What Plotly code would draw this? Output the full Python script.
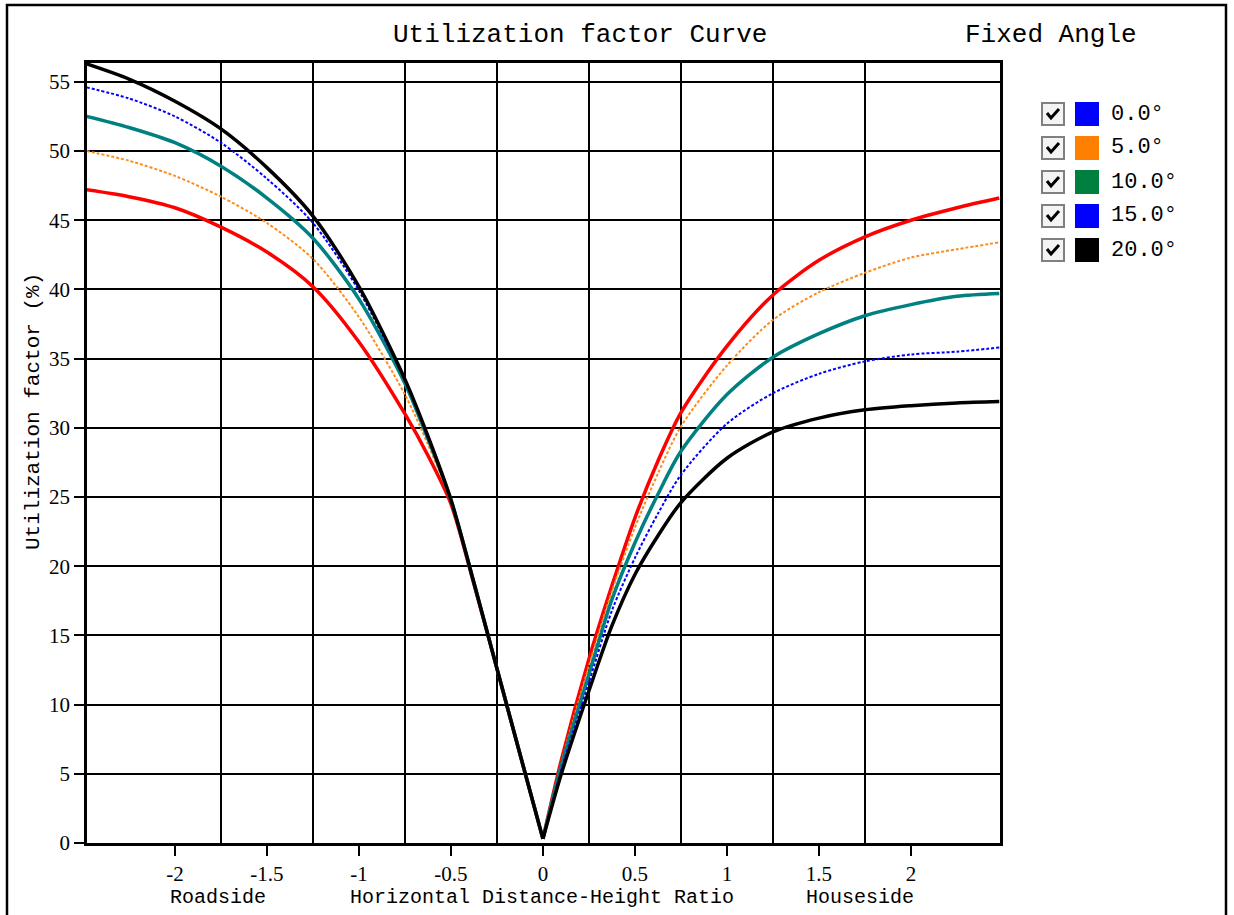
import plotly.graph_objects as go

# ---------------- data ----------------
x_left = [-2.48, -2.25, -2.0, -1.75, -1.5, -1.25, -1.0, -0.75, -0.625, -0.5, -0.375, -0.25, -0.1, 0.0]
x_right = [0.0, 0.1, 0.25, 0.375, 0.5, 0.625, 0.75, 1.0, 1.25, 1.5, 1.75, 2.0, 2.25, 2.48]

red_left = [47.2, 46.7, 45.9, 44.5, 42.7, 40.2, 36.2, 31.0, 28.0, 24.5, 18.7, 12.6, 5.2, 0.3]
orange_left = [50.0, 49.3, 48.2, 46.7, 44.8, 42.2, 38.0, 32.4, 28.8, 24.7, 18.8, 12.6, 5.2, 0.3]
teal_left = [52.5, 51.7, 50.6, 48.9, 46.6, 43.7, 39.3, 33.2, 29.2, 24.8, 18.8, 12.6, 5.2, 0.3]
blue_left = [54.6, 53.8, 52.5, 50.6, 48.0, 44.8, 39.9, 33.4, 29.3, 24.8, 18.8, 12.6, 5.2, 0.3]
black_left = [56.3, 55.2, 53.6, 51.6, 48.8, 45.3, 40.2, 33.5, 29.4, 24.8, 18.8, 12.6, 5.2, 0.3]

red_right = [0.3, 6.0, 13.3, 18.6, 23.5, 27.6, 31.1, 35.9, 39.6, 42.1, 43.8, 45.0, 45.9, 46.6]
orange_right = [0.3, 5.8, 12.8, 18.2, 22.8, 26.7, 30.1, 34.5, 37.8, 39.8, 41.2, 42.3, 42.9, 43.4]
teal_right = [0.3, 5.6, 12.2, 17.6, 21.7, 25.2, 28.3, 32.4, 35.1, 36.8, 38.1, 38.9, 39.5, 39.7]
blue_right = [0.3, 5.3, 11.6, 16.8, 20.6, 23.8, 26.6, 30.3, 32.5, 33.9, 34.8, 35.3, 35.5, 35.8]
black_right = [0.3, 5.0, 11.0, 15.7, 19.4, 22.2, 24.6, 27.8, 29.7, 30.7, 31.3, 31.6, 31.8, 31.9]

legend_labels = ["0.0°", "5.0°", "10.0°", "15.0°", "20.0°"]
legend_swatches = ["#0000FF", "#FF8000", "#008040", "#0000FF", "#000000"]

x_tickvals = [-2, -1.5, -1, -0.5, 0, 0.5, 1, 1.5, 2]
x_ticktext = ["-2", "-1.5", "-1", "-0.5", "0", "0.5", "1", "1.5", "2"]
x_gridvals = [-1.75, -1.25, -0.75, -0.25, 0.25, 0.75, 1.25, 1.75]
y_tickvals = [0, 5, 10, 15, 20, 25, 30, 35, 40, 45, 50, 55]

# ---------------- layout geometry ----------------
W, H = 1234, 915
L, R, T, B = 87, 1000, 63, 843


def px(xp):
    return (xp - L) / (R - L)


def py(yp):
    return (B - yp) / (B - T)


series = [
    ("0.0°", red_left, red_right, dict(color="#FF0000", width=3.5)),
    ("5.0°", orange_left, orange_right, dict(color="#FF8C1A", width=2, dash="3px,2px")),
    ("10.0°", teal_left, teal_right, dict(color="#008080", width=3.5)),
    ("15.0°", blue_left, blue_right, dict(color="#0000FF", width=2, dash="3px,2px")),
    ("20.0°", black_left, black_right, dict(color="#000000", width=3.5)),
]

fig = go.Figure()
for name, yl, yr, ln in series:
    fig.add_trace(go.Scatter(x=x_left, y=yl, mode="lines", name=name,
                             line=dict(shape="spline", smoothing=0.8, **ln),
                             showlegend=False, hoverinfo="skip"))
    fig.add_trace(go.Scatter(x=x_right, y=yr, mode="lines", name=name,
                             line=dict(shape="spline", smoothing=0.8, **ln),
                             showlegend=False, hoverinfo="skip"))

mono = "Liberation Mono"
serif = "Liberation Serif"

shapes = []
annotations = []

# outer frame
shapes.append(dict(type="rect", xref="paper", yref="paper",
                   x0=px(7), x1=px(1226), y0=py(5), y1=py(925),
                   line=dict(color="black", width=2.5), fillcolor="rgba(0,0,0,0)", layer="above"))

# titles
annotations.append(dict(text="Utilization factor Curve", xref="paper", yref="paper",
                        x=px(580), y=py(35), xanchor="center", yanchor="middle",
                        showarrow=False, font=dict(family=mono, size=26, color="black")))
annotations.append(dict(text="Fixed Angle", xref="paper", yref="paper",
                        x=px(1051), y=py(35), xanchor="center", yanchor="middle",
                        showarrow=False, font=dict(family=mono, size=26, color="black")))

# x axis labels
for txt, cx in [("Roadside", 218), ("Horizontal Distance-Height Ratio", 542), ("Houseside", 860)]:
    annotations.append(dict(text=txt, xref="paper", yref="paper", x=px(cx), y=py(897),
                            xanchor="center", yanchor="middle", showarrow=False,
                            font=dict(family=mono, size=20, color="black")))

# y axis label
annotations.append(dict(text="Utilization factor (%)", xref="paper", yref="paper",
                        x=px(33), y=py(412), xanchor="center", yanchor="middle",
                        textangle=-90, showarrow=False,
                        font=dict(family=mono, size=21, color="black")))

# custom legend
for i, (lab, col) in enumerate(zip(legend_labels, legend_swatches)):
    cy = 114 + 34 * i
    shapes.append(dict(type="rect", xref="paper", yref="paper",
                       x0=px(1042), x1=px(1064), y0=py(cy - 11), y1=py(cy + 11),
                       line=dict(color="#808080", width=2), fillcolor="#F4F4F4"))
    shapes.append(dict(type="path", xref="paper", yref="paper",
                       path=f"M {px(1047)} {py(cy - 1)} L {px(1051)} {py(cy + 4)} L {px(1059)} {py(cy - 5)}",
                       line=dict(color="black", width=3)))
    shapes.append(dict(type="rect", xref="paper", yref="paper",
                       x0=px(1075), x1=px(1099), y0=py(cy - 12), y1=py(cy + 12),
                       line=dict(width=0), fillcolor=col))
    annotations.append(dict(text=lab, xref="paper", yref="paper",
                            x=px(1109), y=py(cy), xanchor="left", yanchor="middle",
                            showarrow=False, font=dict(family=mono, size=22, color="black")))

fig.update_layout(
    width=W, height=H, autosize=False,
    margin=dict(l=L, r=W - R, t=T, b=H - B, pad=0),
    paper_bgcolor="white", plot_bgcolor="white",
    shapes=shapes, annotations=annotations,
    showlegend=False,
)

fig.update_xaxes(
    range=[-2.478, 2.484], tickmode="array", tickvals=x_tickvals, ticktext=x_ticktext,
    showgrid=False, zeroline=False,
    showline=True, linecolor="black", linewidth=2.5, mirror=True,
    ticks="outside", ticklen=10, tickwidth=2, tickcolor="black",
    tickfont=dict(family=serif, size=21, color="black"),
    minor=dict(tickmode="array", tickvals=x_gridvals, showgrid=True,
               gridcolor="black", gridwidth=2, ticks=""),
)
fig.update_yaxes(
    range=[0, 56.36], tickmode="array", tickvals=y_tickvals,
    showgrid=True, gridcolor="black", gridwidth=2, zeroline=False,
    showline=True, linecolor="black", linewidth=2.5, mirror=True,
    ticks="outside", ticklen=10, tickwidth=2, tickcolor="black",
    tickfont=dict(family=serif, size=21, color="black"),
)

fig.write_html("out.html", config={"displayModeBar": False},
               post_script="document.body.style.margin='0px';")
